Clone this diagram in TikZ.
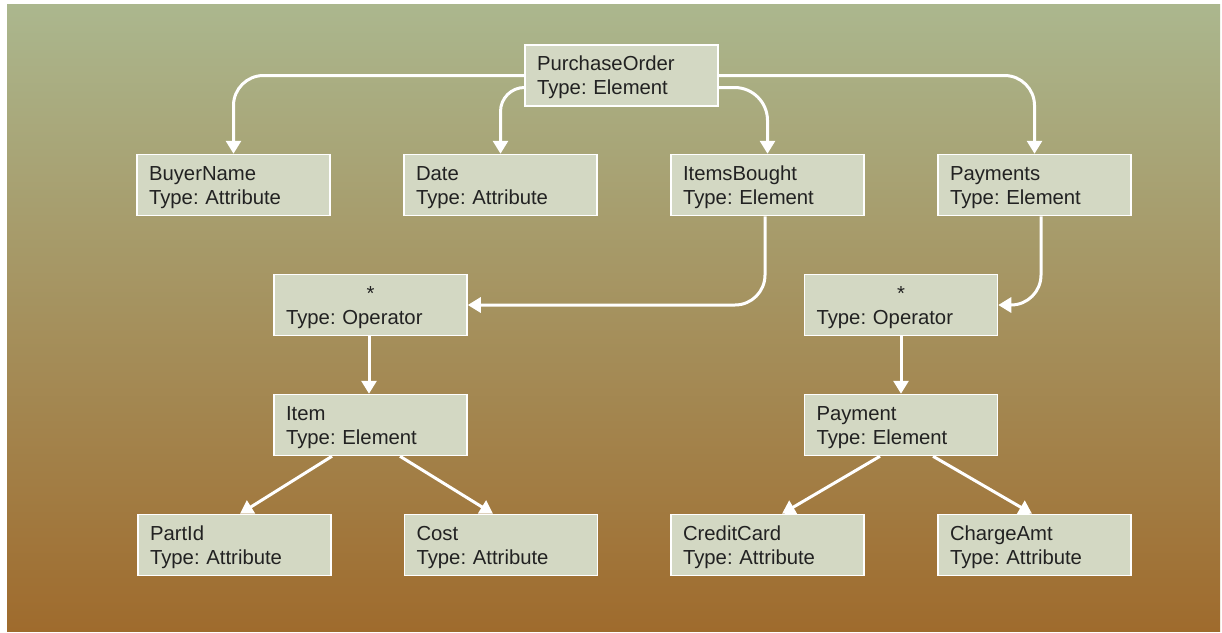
\documentclass[tikz,border=0pt]{standalone}
\usepackage{fontspec}
\setmainfont{Liberation Sans}
\usepackage{xcolor}
\usetikzlibrary{arrows.meta}
\usetikzlibrary{calc}

\definecolor{bgtop}{RGB}{171,183,142}
\definecolor{bgbottom}{RGB}{159,107,45}
\definecolor{boxfill}{RGB}{211,216,195}
\definecolor{boxtext}{RGB}{34,34,34}

\newcommand{\twolines}[2]{\rule{0pt}{19pt}#1\\#2\rule[-5pt]{0pt}{5pt}}

\begin{document}
\begin{tikzpicture}[x=1pt, y=-1pt,
  box/.style={draw=white, line width=1.5pt, fill=boxfill, text=boxtext,
    minimum width=193pt, minimum height=61pt, inner xsep=12pt,
    text width=169pt, align=left,
    font=\fontsize{20.3}{24}\selectfont\frenchspacing},
  conn/.style={draw=white, line width=3pt,
    -{Triangle[width=15pt,length=13pt]}}]

% background
\fill[white] (0,0) rectangle (1222,632);
\shade[top color=bgtop, bottom color=bgbottom] (7,4) rectangle (1220,631);

% top level
\node[box] (po) at (621.5,75.5) {\twolines{PurchaseOrder}{Type: Element}};

\node[box] (buyer) at (233.5,185) {\twolines{BuyerName}{Type: Attribute}};
\node[box] (date) at (500.5,185) {\twolines{Date}{Type: Attribute}};
\node[box] (items) at (767.5,185) {\twolines{ItemsBought}{Type: Element}};
\node[box] (pays) at (1034.5,185) {\twolines{Payments}{Type: Element}};

% operators
\node[box] (opL) at (370.5,305) {\twolines{\makebox[169pt]{*}}{Type: Operator}};
\node[box] (opR) at (901,305) {\twolines{\makebox[169pt]{*}}{Type: Operator}};

\node[box] (item) at (370.5,425) {\twolines{Item}{Type: Element}};
\node[box] (payment) at (901,425) {\twolines{Payment}{Type: Element}};

% leaves
\node[box] (partid) at (234.5,545) {\twolines{PartId}{Type: Attribute}};
\node[box] (cost) at (501,545) {\twolines{Cost}{Type: Attribute}};
\node[box] (credit) at (767.5,545) {\twolines{CreditCard}{Type: Attribute}};
\node[box] (charge) at (1034.5,545) {\twolines{ChargeAmt}{Type: Attribute}};

% connectors
\draw[conn, rounded corners=30pt] (po.west) -| (buyer.north);
\draw[conn, rounded corners=24pt] ([yshift=-12pt]po.west) -| (date.north);
\draw[conn, rounded corners=33pt] ([yshift=-12pt]po.east) -| (items.north);
\draw[conn, rounded corners=30pt] (po.east) -| (pays.north);

\draw[conn, rounded corners=30pt] ([xshift=-2.5pt]items.south) |- (opL.east);
\draw[conn, rounded corners=30pt] ([xshift=6.5pt]pays.south) |- (opR.east);

\draw[conn] ([xshift=-1.5pt]opL.south) -- ([xshift=-1.5pt]item.north);
\draw[conn] (opR.south) -- (payment.north);

\draw[conn] ([xshift=-38.5pt]item.south) -- ([xshift=5.5pt]partid.north);
\draw[conn] ([xshift=29.5pt]item.south) -- ([xshift=-8pt]cost.north);
\draw[conn] ([xshift=-21pt]payment.south) -- ([xshift=14.5pt]credit.north);
\draw[conn] ([xshift=32pt]payment.south) -- ([xshift=-2.5pt]charge.north);

\end{tikzpicture}
\end{document}
